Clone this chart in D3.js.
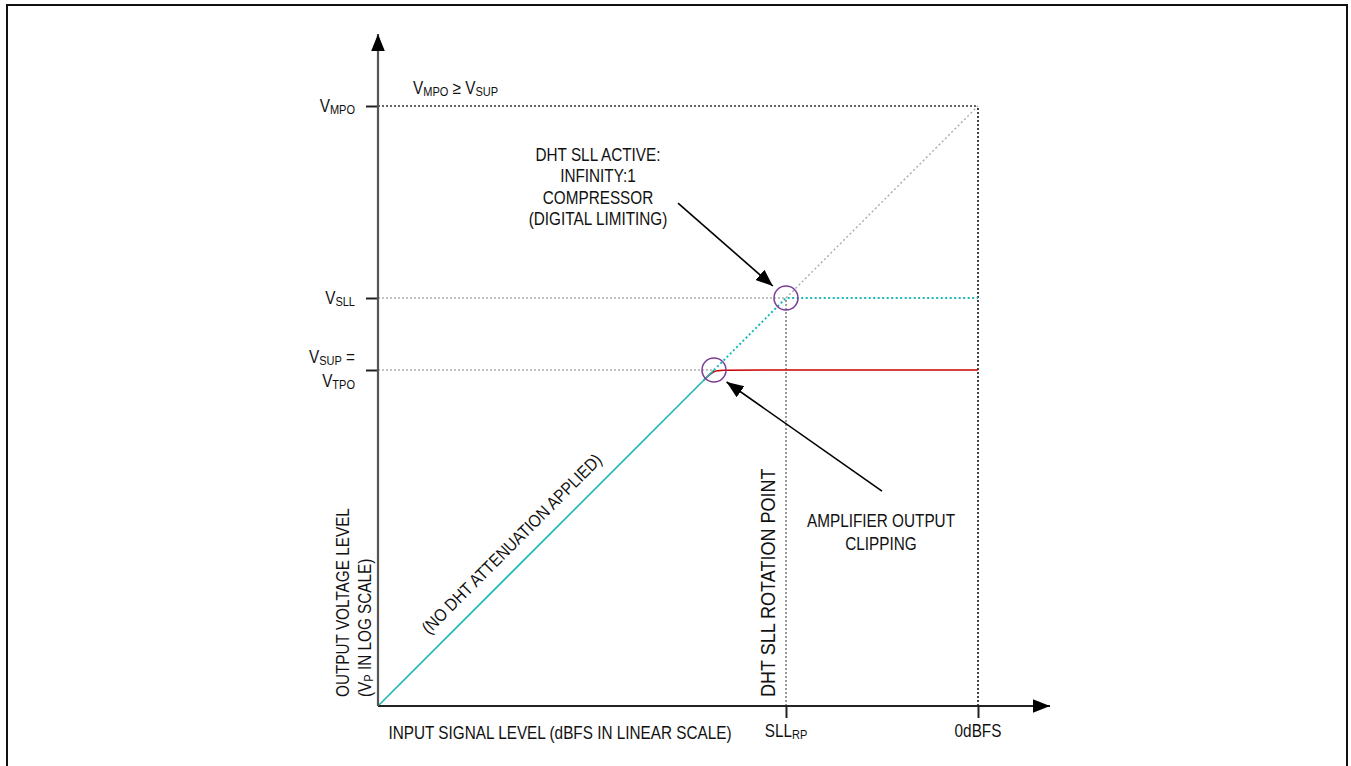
<!DOCTYPE html>
<html><head><meta charset="utf-8">
<script src="https://cdn.jsdelivr.net/npm/d3@7"></script>
<style>
html,body{margin:0;padding:0;background:#fff;}
svg{display:block;}
text{font-family:"Liberation Sans Narrow","Arial Narrow","Liberation Sans",Arial,sans-serif;fill:#111;}
</style></head>
<body>
<svg id="chart" width="1351" height="766"></svg>
<script>
// ---- data (conceptual units: input level in linear dBFS, output level in log scale) ----
const xTickValues = [68, 100];               // SLL_RP, 0dBFS
const xTickLabels = [["SLL","RP"], ["0dBFS",""]];
const yTickValues = [100, 68, 56];           // V_MPO, V_SLL, V_SUP = V_TPO
const yTickLabels = [[["V","MPO"]], [["V","SLL"]], [["V","SUP"," ="],["V","TPO"]]];
const tealSolid  = [[0,0],[56,56]];
const tealDotted = [[56,56],[68,68],[100,68]];
const grayDiag   = [[68,68],[100,100]];
const redClip    = [[54.3,54.3],[56,56],[57.6,56],[100,56]];
const guideH = [[100,0,100,"dark"],[68,0,68,"light"],[56,0,56,"light"]]; // y, x0, x1
const guideV = [[68,0,68,"light"],[100,0,100,"dark"]];                   // x, y0, y1
const circles = [[56.0,56.0],[68,68]];
const arrows = [[50,83.8,65.8,70],[84,35.8,58.1,54]];
const xDomain = [0,112], yDomain = [0,112];

const svg = d3.select("#chart");
const x = d3.scaleLinear().domain(xDomain).range([378,1050]);
const y = d3.scaleLinear().domain(yDomain).range([706,34]);

// frame
svg.append("rect").attr("x",7).attr("y",5).attr("width",1340).attr("height",780)
  .attr("fill","none").attr("stroke","#111").attr("stroke-width",2);

const defs = svg.append("defs");
defs.append("marker").attr("id","ah").attr("viewBox","0 0 10 10").attr("refX",10).attr("refY",5)
  .attr("markerWidth",17).attr("markerHeight",17).attr("markerUnits","userSpaceOnUse").attr("orient","auto")
  .append("path").attr("d","M0,1 L10,5 L0,9 Z").attr("fill","#000");

const line = d3.line().x(d=>x(d[0])).y(d=>y(d[1]));

// guides
svg.selectAll(".gh").data(guideH).enter().append("line")
  .attr("x1",d=>x(d[1])).attr("x2",d=>x(d[2])).attr("y1",d=>y(d[0])).attr("y2",d=>y(d[0]))
  .attr("stroke",d=>d[3]==="dark"?"#333":"#888").attr("stroke-width",d=>d[3]==="dark"?1.3:1.2)
  .attr("stroke-dasharray","2,2");
svg.selectAll(".gv").data(guideV).enter().append("line")
  .attr("x1",d=>x(d[0])).attr("x2",d=>x(d[0])).attr("y1",d=>y(d[1])).attr("y2",d=>y(d[2]))
  .attr("stroke",d=>d[3]==="dark"?"#444":"#999").attr("stroke-width",2)
  .attr("stroke-dasharray","2,2");

// data lines
svg.append("path").attr("d",line(grayDiag)).attr("fill","none").attr("stroke","#aaa")
  .attr("stroke-width",1.4).attr("stroke-dasharray","2,2.5");
svg.append("path").attr("d",line.curve(d3.curveBasis)(redClip)).attr("fill","none")
  .attr("stroke","#cc0000").attr("stroke-width",1.6);
line.curve(d3.curveLinear);
svg.append("path").attr("d",line(tealDotted)).attr("fill","none").attr("stroke","#1cb8b8")
  .attr("stroke-width",2).attr("stroke-dasharray","2,2.5");
svg.append("path").attr("d",line(tealSolid)).attr("fill","none").attr("stroke","#1cb8b8")
  .attr("stroke-width",1.6);

// circles
svg.selectAll(".c").data(circles).enter().append("circle")
  .attr("cx",d=>x(d[0])).attr("cy",d=>y(d[1])).attr("r",12)
  .attr("fill","none").attr("stroke","#7a3d97").attr("stroke-width",1.5);

// axes
const xAxis = d3.axisBottom(x).tickValues(xTickValues).tickSize(12).tickFormat("");
const yAxis = d3.axisLeft(y).tickValues(yTickValues).tickSize(12).tickFormat("");
const gx = svg.append("g").attr("transform",`translate(0,${y(0)})`).call(xAxis);
const gy = svg.append("g").attr("transform",`translate(${x(0)},0)`).call(yAxis);
[gx,gy].forEach(g=>{g.select(".domain").remove();
  g.selectAll(".tick line").attr("stroke","#222").attr("stroke-width",2);});
svg.append("line").attr("x1",x(0)).attr("x2",x(112)).attr("y1",y(0)).attr("y2",y(0))
  .attr("stroke","#222").attr("stroke-width",2.2).attr("marker-end","url(#ah)");
svg.append("line").attr("x1",x(0)).attr("x2",x(0)).attr("y1",y(0)).attr("y2",y(112))
  .attr("stroke","#555").attr("stroke-width",2.2).attr("marker-end","url(#ah)");

const FS = 17.5, NARROW = 0.875;
// label: parts = list of [text, isSub]; condensed horizontally to emulate a narrow typeface
function label(px, py, rot, anchor, parts, fs){
  fs = fs || FS;
  const t = svg.append("text")
    .attr("transform",`translate(${px},${py}) rotate(${rot}) scale(${NARROW},1)`)
    .attr("text-anchor",anchor).attr("font-size",fs);
  let sub = false;
  parts.forEach(p=>{
    const s = t.append("tspan").text(p[0]);
    if(p[1] && !sub){ s.attr("font-size",fs*0.72).attr("dy",2); sub = true; }
    else if(!p[1] && sub){ s.attr("dy",-2); sub = false; }
  });
  return t;
}
function toParts(a){ const r=[[a[0],false]]; if(a[1]) r.push([a[1],true]); if(a[2]) r.push([a[2],false]); return r; }

// x tick labels
xTickValues.forEach((v,i)=> label(x(v), y(0)+31, 0, "middle", toParts(xTickLabels[i])));
// y tick labels
yTickValues.forEach((v,i)=>{
  const lines = yTickLabels[i];
  lines.forEach((p,j)=> label(x(0)-23, y(v)+(lines.length===1?6:(j===0?-7:17)), 0, "end", toParts(p)));
});

// axis titles
label(560, 739, 0, "middle", [["INPUT SIGNAL LEVEL (dBFS IN LINEAR SCALE)",false]]);
label(349, 697, -90, "start", [["OUTPUT VOLTAGE LEVEL",false]]);
label(371, 697, -90, "start", [["(V",false],["P",true],[" IN LOG SCALE)",false]]);

// annotations
label(413, 94, 0, "start", [["V",false],["MPO",true],[" \u2265 V",false],["SUP",true]]);
["DHT SLL ACTIVE:","INFINITY:1","COMPRESSOR","(DIGITAL LIMITING)"].forEach((s,i)=>
  label(598, 161+i*21.3, 0, "middle", [[s,false]]));
["AMPLIFIER OUTPUT","CLIPPING"].forEach((s,i)=>
  label(881, 527+i*23, 0, "middle", [[s,false]]));
label(x(68)-11, 697, -90, "start", [["DHT SLL ROTATION POINT",false]], 20.6);
label(x(10)-9, y(10)-11, -45, "start", [["(NO DHT ATTENUATION APPLIED)",false]]);

svg.selectAll(".ar").data(arrows).enter().append("line")
  .attr("x1",d=>x(d[0])).attr("y1",d=>y(d[1])).attr("x2",d=>x(d[2])).attr("y2",d=>y(d[3]))
  .attr("stroke","#000").attr("stroke-width",1.6).attr("marker-end","url(#ah)");
</script>
</body></html>
